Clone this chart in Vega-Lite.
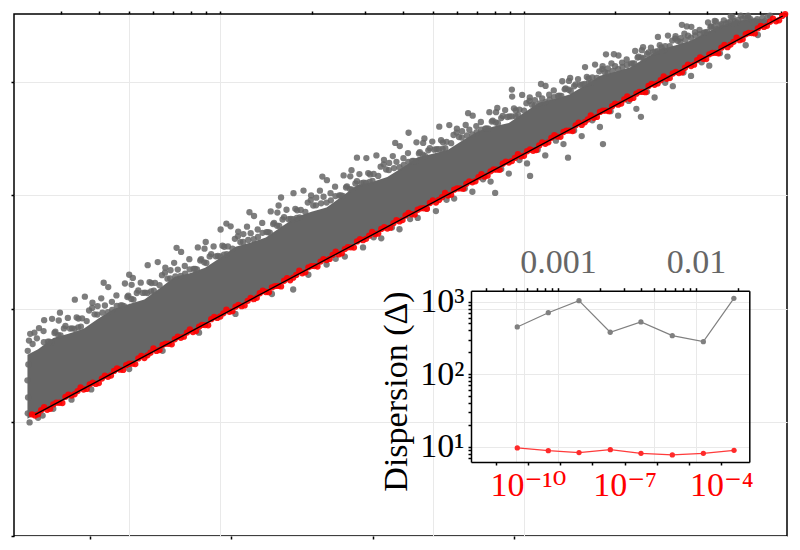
{
"$schema": "https://vega.github.io/schema/vega-lite/v6.json",
"width": 773, "height": 522,
"autosize": {"type": "none"},
"padding": {"left": 14, "top": 14, "right": 13, "bottom": 14},
"background": "white",
"config": {
 "view": {"stroke": "black", "strokeWidth": 1.5},
 "font": "Liberation Serif, DejaVu Serif",
 "axis": {"labelFont": "Liberation Serif, DejaVu Serif", "titleFont": "Liberation Serif, DejaVu Serif", "tickColor": "black", "domainColor": "black", "tickWidth": 1.5, "domainWidth": 1.5, "gridColor": "#e9e9e9", "gridWidth": 1, "labelFlush": false, "labelOverlap": false, "labelBound": false, "titleFontWeight": "normal", "labelColor": "black", "titleColor": "black"}
},
"datasets": {
 "core": [
  {"u":-0.635,"lo":1.033,"hi":1.595},{"u":-0.6,"lo":1.083,"hi":1.643},{"u":-0.55,"lo":1.154,"hi":1.742},{"u":-0.5,"lo":1.2255,"hi":1.781},{"u":-0.45,"lo":1.297,"hi":1.824},{"u":-0.4,"lo":1.368,"hi":1.916},{"u":-0.35,"lo":1.439,"hi":2.0},{"u":-0.3,"lo":1.5105,"hi":2.043},{"u":-0.25,"lo":1.582,"hi":2.081},{"u":-0.2,"lo":1.653,"hi":2.178},{"u":-0.15,"lo":1.724,"hi":2.281},{"u":-0.1,"lo":1.7955,"hi":2.314},{"u":-0.05,"lo":1.867,"hi":2.362},{"u":0,"lo":1.938,"hi":2.449},{"u":0.05,"lo":2.009,"hi":2.547},{"u":0.1,"lo":2.0805,"hi":2.584},{"u":0.15,"lo":2.152,"hi":2.627},{"u":0.2,"lo":2.223,"hi":2.719},{"u":0.25,"lo":2.294,"hi":2.807},{"u":0.3,"lo":2.3655,"hi":2.854},{"u":0.35,"lo":2.437,"hi":2.892},{"u":0.4,"lo":2.508,"hi":2.989},{"u":0.45,"lo":2.579,"hi":3.088},{"u":0.5,"lo":2.6505,"hi":3.117},{"u":0.55,"lo":2.722,"hi":3.161},{"u":0.6,"lo":2.793,"hi":3.244},{"u":0.65,"lo":2.864,"hi":3.335},{"u":0.7,"lo":2.9355,"hi":3.365},{"u":0.75,"lo":3.007,"hi":3.4},{"u":0.8,"lo":3.078,"hi":3.485},{"u":0.85,"lo":3.149,"hi":3.565},{"u":0.9,"lo":3.2205,"hi":3.605},{"u":0.95,"lo":3.292,"hi":3.636},{"u":1.0,"lo":3.363,"hi":3.726},{"u":1.05,"lo":3.434,"hi":3.816},{"u":1.1,"lo":3.5055,"hi":3.846},{"u":1.15,"lo":3.577,"hi":3.886},{"u":1.2,"lo":3.648,"hi":3.966},{"u":1.25,"lo":3.719,"hi":4.052},{"u":1.3,"lo":3.7905,"hi":4.087},{"u":1.35,"lo":3.862,"hi":4.127},{"u":1.4,"lo":3.933,"hi":4.207},{"u":1.45,"lo":4.004,"hi":4.284},{"u":1.5,"lo":4.0755,"hi":4.32},{"u":1.55,"lo":4.147,"hi":4.362},{"u":1.6,"lo":4.218,"hi":4.433},{"u":1.65,"lo":4.289,"hi":4.497},{"u":1.7,"lo":4.3605,"hi":4.531},{"u":1.76,"lo":4.446,"hi":4.56},{"u":1.8,"lo":4.503,"hi":4.54}
 ],
 "gray": [
  {"u":-0.634,"v":1.08},{"u":-0.633,"v":1.22},{"u":-0.635,"v":1.37},{"u":-0.632,"v":1.51},{"u":-0.634,"v":1.63},{"u":-0.63,"v":1.72},{"u":-0.626,"v":1.78},{"u":-0.618,"v":1.69},{"u":-0.612,"v":1.79},{"u":-0.604,"v":1.74},{"u":-0.597,"v":1.83},{"u":-0.628,"v":1.0},{"u":-0.6,"v":1.04},{"u":-0.585,"v":1.06},{"u":-0.58,"v":1.9},
  {"u":-0.582,"v":1.804},{"u":-0.568,"v":1.71},{"u":-0.554,"v":1.912},{"u":-0.543,"v":1.798},{"u":-0.532,"v":1.897},{"u":-0.557,"v":1.703},{"u":-0.55,"v":1.12},
  {"u":-0.528,"v":1.966},{"u":-0.515,"v":1.827},{"u":-0.502,"v":1.92},{"u":-0.488,"v":1.828},{"u":-0.479,"v":2.08},{"u":-0.473,"v":1.924},{"u":-0.49,"v":1.2},
  {"u":-0.459,"v":1.843},{"u":-0.446,"v":2.107},{"u":-0.432,"v":1.985},{"u":-0.421,"v":2.053},{"u":-0.467,"v":1.914},{"u":-0.414,"v":1.951},{"u":-0.425,"v":1.29},
  {"u":-0.405,"v":1.949},{"u":-0.392,"v":2.092},{"u":-0.38,"v":2.029},{"u":-0.369,"v":2.191},{"u":-0.356,"v":1.99},{"u":-0.384,"v":2.229},
  {"u":-0.342,"v":2.118},{"u":-0.328,"v":2.029},{"u":-0.314,"v":2.223},{"u":-0.303,"v":2.115},{"u":-0.292,"v":2.211},{"u":-0.317,"v":2.023},{"u":-0.3,"v":1.47},{"u":-0.3,"v":2.3},
  {"u":-0.288,"v":2.272},{"u":-0.275,"v":2.139},{"u":-0.262,"v":2.23},{"u":-0.248,"v":2.143},{"u":-0.239,"v":2.384},{"u":-0.233,"v":2.235},
  {"u":-0.219,"v":2.159},{"u":-0.206,"v":2.411},{"u":-0.192,"v":2.296},{"u":-0.181,"v":2.362},{"u":-0.227,"v":2.226},{"u":-0.174,"v":2.265},{"u":-0.19,"v":1.63},
  {"u":-0.165,"v":2.267},{"u":-0.152,"v":2.405},{"u":-0.14,"v":2.345},{"u":-0.129,"v":2.501},{"u":-0.116,"v":2.309},{"u":-0.144,"v":2.537},
  {"u":-0.102,"v":2.437},{"u":-0.088,"v":2.352},{"u":-0.074,"v":2.54},{"u":-0.063,"v":2.436},{"u":-0.052,"v":2.529},{"u":-0.077,"v":2.346},{"u":-0.07,"v":1.79},
  {"u":-0.048,"v":2.588},{"u":-0.035,"v":2.461},{"u":-0.022,"v":2.549},{"u":-0.008,"v":2.465},{"u":0.001,"v":2.698},{"u":0.007,"v":2.555},{"u":0.02,"v":2.75},
  {"u":0.021,"v":2.482},{"u":0.034,"v":2.726},{"u":0.048,"v":2.616},{"u":0.059,"v":2.68},{"u":0.013,"v":2.546},{"u":0.066,"v":2.587},{"u":0.05,"v":1.955},
  {"u":0.075,"v":2.589},{"u":0.088,"v":2.723},{"u":0.1,"v":2.666},{"u":0.111,"v":2.817},{"u":0.124,"v":2.632},{"u":0.096,"v":2.85},
  {"u":0.138,"v":2.756},{"u":0.152,"v":2.675},{"u":0.166,"v":2.857},{"u":0.177,"v":2.757},{"u":0.188,"v":2.847},{"u":0.163,"v":2.67},{"u":0.17,"v":2.13},
  {"u":0.192,"v":2.909},{"u":0.205,"v":2.786},{"u":0.218,"v":2.872},{"u":0.232,"v":2.792},{"u":0.241,"v":3.018},{"u":0.247,"v":2.88},{"u":0.24,"v":2.17},{"u":0.2,"v":2.98},
  {"u":0.261,"v":2.805},{"u":0.274,"v":3.041},{"u":0.288,"v":2.935},{"u":0.299,"v":2.998},{"u":0.253,"v":2.867},{"u":0.306,"v":2.909},{"u":0.29,"v":2.3},
  {"u":0.315,"v":2.911},{"u":0.328,"v":3.04},{"u":0.34,"v":2.986},{"u":0.351,"v":3.132},{"u":0.364,"v":2.955},{"u":0.336,"v":3.164},{"u":0.35,"v":2.39},
  {"u":0.378,"v":3.075},{"u":0.392,"v":2.998},{"u":0.406,"v":3.174},{"u":0.417,"v":3.078},{"u":0.428,"v":3.166},{"u":0.403,"v":2.993},{"u":0.41,"v":2.46},{"u":0.38,"v":2.44},
  {"u":0.432,"v":3.22},{"u":0.445,"v":3.103},{"u":0.458,"v":3.186},{"u":0.472,"v":3.11},{"u":0.481,"v":3.327},{"u":0.487,"v":3.195},{"u":0.47,"v":2.54},{"u":0.45,"v":3.33},
  {"u":0.501,"v":3.125},{"u":0.514,"v":3.35},{"u":0.528,"v":3.251},{"u":0.539,"v":3.311},{"u":0.493,"v":3.183},{"u":0.546,"v":3.226},{"u":0.53,"v":2.62},{"u":0.505,"v":2.63},
  {"u":0.555,"v":3.221},{"u":0.568,"v":3.344},{"u":0.58,"v":3.294},{"u":0.591,"v":3.432},{"u":0.604,"v":3.266},{"u":0.576,"v":3.46},{"u":0.59,"v":2.7},{"u":0.565,"v":2.715},
  {"u":0.618,"v":3.371},{"u":0.632,"v":3.301},{"u":0.646,"v":3.465},{"u":0.657,"v":3.378},{"u":0.668,"v":3.46},{"u":0.643,"v":3.298},{"u":0.65,"v":2.8},{"u":0.625,"v":2.79},{"u":0.62,"v":3.55},
  {"u":0.672,"v":3.499},{"u":0.685,"v":3.395},{"u":0.698,"v":3.472},{"u":0.712,"v":3.405},{"u":0.721,"v":3.603},{"u":0.727,"v":3.484},{"u":0.71,"v":2.86},{"u":0.68,"v":2.88},
  {"u":0.741,"v":3.414},{"u":0.754,"v":3.617},{"u":0.768,"v":3.53},{"u":0.779,"v":3.586},{"u":0.733,"v":3.465},{"u":0.786,"v":3.512},{"u":0.77,"v":2.97},{"u":0.745,"v":2.96},
  {"u":0.795,"v":3.507},{"u":0.808,"v":3.618},{"u":0.82,"v":3.576},{"u":0.831,"v":3.7},{"u":0.844,"v":3.555},{"u":0.816,"v":3.722},{"u":0.83,"v":3.03},{"u":0.805,"v":3.06},
  {"u":0.858,"v":3.644},{"u":0.872,"v":3.585},{"u":0.886,"v":3.731},{"u":0.897,"v":3.657},{"u":0.908,"v":3.731},{"u":0.883,"v":3.585},{"u":0.89,"v":3.12},{"u":0.865,"v":3.14},{"u":0.905,"v":3.02},
  {"u":0.912,"v":3.768},{"u":0.925,"v":3.679},{"u":0.938,"v":3.749},{"u":0.952,"v":3.693},{"u":0.961,"v":3.868},{"u":0.967,"v":3.765},{"u":0.95,"v":3.19},{"u":0.925,"v":3.23},{"u":0.96,"v":3.93},
  {"u":0.981,"v":3.704},{"u":0.994,"v":3.883},{"u":1.008,"v":3.81},{"u":1.019,"v":3.86},{"u":0.973,"v":3.746},{"u":1.026,"v":3.797},{"u":1.01,"v":3.28},{"u":0.985,"v":3.31},{"u":1.02,"v":3.17},
  {"u":1.035,"v":3.789},{"u":1.048,"v":3.887},{"u":1.06,"v":3.853},{"u":1.071,"v":3.962},{"u":1.084,"v":3.84},{"u":1.056,"v":3.979},{"u":1.07,"v":3.35},{"u":1.045,"v":3.4},
  {"u":1.098,"v":3.922},{"u":1.112,"v":3.873},{"u":1.126,"v":4.003},{"u":1.137,"v":3.94},{"u":1.148,"v":4.006},{"u":1.123,"v":3.875},{"u":1.13,"v":3.45},{"u":1.105,"v":3.48},{"u":1.145,"v":3.33},
  {"u":1.152,"v":4.032},{"u":1.165,"v":3.959},{"u":1.178,"v":4.022},{"u":1.192,"v":3.976},{"u":1.201,"v":4.128},{"u":1.207,"v":4.041},{"u":1.19,"v":3.52},{"u":1.165,"v":3.57},
  {"u":1.221,"v":3.993},{"u":1.234,"v":4.15},{"u":1.248,"v":4.09},{"u":1.259,"v":4.135},{"u":1.213,"v":4.028},{"u":1.266,"v":4.082},{"u":1.25,"v":3.6},{"u":1.225,"v":3.66},{"u":1.26,"v":3.45},{"u":1.27,"v":4.24},
  {"u":1.275,"v":4.075},{"u":1.288,"v":4.161},{"u":1.3,"v":4.135},{"u":1.311,"v":4.23},{"u":1.324,"v":4.129},{"u":1.296,"v":4.241},{"u":1.31,"v":3.7},{"u":1.285,"v":3.74},
  {"u":1.338,"v":4.195},{"u":1.352,"v":4.158},{"u":1.366,"v":4.269},{"u":1.377,"v":4.219},{"u":1.388,"v":4.277},{"u":1.363,"v":4.161},{"u":1.37,"v":3.76},{"u":1.345,"v":3.83},{"u":1.385,"v":3.69},
  {"u":1.392,"v":4.302},{"u":1.405,"v":4.243},{"u":1.418,"v":4.298},{"u":1.432,"v":4.264},{"u":1.441,"v":4.393},{"u":1.447,"v":4.321},{"u":1.43,"v":3.86},{"u":1.405,"v":3.91},
  {"u":1.461,"v":4.275},{"u":1.474,"v":4.405},{"u":1.488,"v":4.361},{"u":1.499,"v":4.4},{"u":1.453,"v":4.3},{"u":1.506,"v":4.359},{"u":1.49,"v":3.96},{"u":1.465,"v":3.99},
  {"u":1.515,"v":4.349},{"u":1.528,"v":4.421},{"u":1.54,"v":4.404},{"u":1.551,"v":4.482},{"u":1.564,"v":4.406},{"u":1.536,"v":4.486},{"u":1.55,"v":4.05},{"u":1.525,"v":4.08},{"u":1.52,"v":4.5},
  {"u":1.578,"v":4.454},{"u":1.592,"v":4.43},{"u":1.606,"v":4.52},{"u":1.617,"v":4.486},{"u":1.628,"v":4.534},{"u":1.603,"v":4.437},{"u":1.61,"v":4.14},{"u":1.585,"v":4.17},
  {"u":1.632,"v":4.529},{"u":1.645,"v":4.494},{"u":1.658,"v":4.538},{"u":1.672,"v":4.52},{"u":1.681,"v":4.575},{"u":1.687,"v":4.566},{"u":1.67,"v":4.22},{"u":1.645,"v":4.25},
  {"u":1.701,"v":4.52},{"u":1.714,"v":4.58},{"u":1.728,"v":4.57},{"u":1.739,"v":4.56},{"u":1.693,"v":4.532},{"u":1.746,"v":4.55},{"u":1.73,"v":4.32},
  {"u":1.757,"v":4.52},{"u":1.768,"v":4.55},{"u":1.776,"v":4.5},{"u":1.785,"v":4.56},{"u":1.793,"v":4.53},{"u":1.802,"v":4.57},{"u":1.81,"v":4.58},{"u":1.77,"v":4.41},
  {"u":-0.581,"v":1.706},{"u":-0.563,"v":1.71},{"u":-0.546,"v":1.787},{"u":-0.533,"v":1.768},
  {"u":-0.526,"v":1.766},{"u":-0.51,"v":1.849},{"u":-0.495,"v":1.826},{"u":-0.48,"v":1.824},
  {"u":-0.455,"v":1.916},{"u":-0.44,"v":1.892},{"u":-0.422,"v":2.008},{"u":-0.468,"v":1.837},
  {"u":-0.404,"v":2.024},{"u":-0.388,"v":1.966},{"u":-0.37,"v":1.97},{"u":-0.357,"v":2.061},
  {"u":-0.341,"v":2.025},{"u":-0.323,"v":2.029},{"u":-0.306,"v":2.104},{"u":-0.293,"v":2.086},
  {"u":-0.286,"v":2.081},{"u":-0.27,"v":2.161},{"u":-0.255,"v":2.14},{"u":-0.24,"v":2.139},
  {"u":-0.215,"v":2.228},{"u":-0.2,"v":2.207},{"u":-0.182,"v":2.318},{"u":-0.228,"v":2.153},
  {"u":-0.164,"v":2.339},{"u":-0.148,"v":2.284},{"u":-0.13,"v":2.289},{"u":-0.117,"v":2.377},
  {"u":-0.101,"v":2.347},{"u":-0.083,"v":2.352},{"u":-0.066,"v":2.425},{"u":-0.053,"v":2.409},
  {"u":-0.046,"v":2.403},{"u":-0.03,"v":2.482},{"u":-0.015,"v":2.462},{"u":0.0,"v":2.462},
  {"u":0.025,"v":2.549},{"u":0.04,"v":2.529},{"u":0.058,"v":2.638},{"u":0.012,"v":2.476},
  {"u":0.076,"v":2.658},{"u":0.092,"v":2.606},{"u":0.11,"v":2.612},{"u":0.123,"v":2.698},
  {"u":0.139,"v":2.669},{"u":0.157,"v":2.675},{"u":0.174,"v":2.746},{"u":0.187,"v":2.731},
  {"u":0.194,"v":2.73},{"u":0.21,"v":2.807},{"u":0.225,"v":2.788},{"u":0.24,"v":2.789},
  {"u":0.265,"v":2.87},{"u":0.28,"v":2.852},{"u":0.298,"v":2.957},{"u":0.252,"v":2.799},
  {"u":0.316,"v":2.978},{"u":0.332,"v":2.928},{"u":0.35,"v":2.935},{"u":0.363,"v":3.018},
  {"u":0.379,"v":2.992},{"u":0.397,"v":2.998},{"u":0.414,"v":3.068},{"u":0.427,"v":3.054},
  {"u":0.434,"v":3.049},{"u":0.45,"v":3.123},{"u":0.465,"v":3.107},{"u":0.48,"v":3.108},
  {"u":0.505,"v":3.187},{"u":0.52,"v":3.17},{"u":0.538,"v":3.272},{"u":0.492,"v":3.118},
  {"u":0.556,"v":3.284},{"u":0.572,"v":3.239},{"u":0.59,"v":3.246},{"u":0.603,"v":3.326},
  {"u":0.619,"v":3.294},{"u":0.637,"v":3.302},{"u":0.654,"v":3.368},{"u":0.667,"v":3.357},
  {"u":0.674,"v":3.345},{"u":0.69,"v":3.414},{"u":0.705,"v":3.401},{"u":0.72,"v":3.405},
  {"u":0.745,"v":3.47},{"u":0.76,"v":3.458},{"u":0.778,"v":3.551},{"u":0.732,"v":3.407},
  {"u":0.796,"v":3.563},{"u":0.812,"v":3.526},{"u":0.83,"v":3.535},{"u":0.843,"v":3.608},
  {"u":0.859,"v":3.577},{"u":0.877,"v":3.587},{"u":0.894,"v":3.648},{"u":0.907,"v":3.64},
  {"u":0.914,"v":3.633},{"u":0.93,"v":3.697},{"u":0.945,"v":3.688},{"u":0.96,"v":3.694},
  {"u":0.985,"v":3.754},{"u":1.0,"v":3.745},{"u":1.018,"v":3.83},{"u":0.972,"v":3.695},
  {"u":1.036,"v":3.837},{"u":1.052,"v":3.808},{"u":1.07,"v":3.82},{"u":1.083,"v":3.885},
  {"u":1.099,"v":3.863},{"u":1.117,"v":3.876},{"u":1.134,"v":3.932},{"u":1.147,"v":3.928},
  {"u":1.154,"v":3.917},{"u":1.17,"v":3.975},{"u":1.185,"v":3.971},{"u":1.2,"v":3.979},
  {"u":1.225,"v":4.037},{"u":1.24,"v":4.033},{"u":1.258,"v":4.109},{"u":1.212,"v":3.984},
  {"u":1.276,"v":4.116},{"u":1.292,"v":4.095},{"u":1.31,"v":4.109},{"u":1.323,"v":4.167},
  {"u":1.339,"v":4.146},{"u":1.357,"v":4.161},{"u":1.374,"v":4.211},{"u":1.387,"v":4.211},
  {"u":1.394,"v":4.205},{"u":1.41,"v":4.257},{"u":1.425,"v":4.257},{"u":1.44,"v":4.267},
  {"u":1.465,"v":4.312},{"u":1.48,"v":4.312},{"u":1.498,"v":4.379},{"u":1.452,"v":4.265},
  {"u":1.516,"v":4.382},{"u":1.532,"v":4.37},{"u":1.55,"v":4.386},{"u":1.563,"v":4.436},
  {"u":1.579,"v":4.417},{"u":1.597,"v":4.434},{"u":1.614,"v":4.479},{"u":1.627,"v":4.483},
  {"u":1.634,"v":4.462},{"u":1.65,"v":4.506},{"u":1.665,"v":4.512},{"u":1.68,"v":4.526},
  {"u":1.705,"v":4.544},{"u":1.72,"v":4.553},{"u":1.738,"v":4.58},{"u":1.692,"v":4.509}
 ],
 "red": [
  {"u":-0.62,"v":1.07},{"u":-0.6,"v":1.071},{"u":-0.58,"v":1.134},{"u":-0.56,"v":1.12},{"u":-0.54,"v":1.174},{"u":-0.52,"v":1.171},{"u":-0.5,"v":1.244},{"u":-0.48,"v":1.248},{"u":-0.46,"v":1.309},{"u":-0.44,"v":1.295},
  {"u":-0.42,"v":1.35},{"u":-0.4,"v":1.346},{"u":-0.38,"v":1.412},{"u":-0.36,"v":1.413},{"u":-0.34,"v":1.476},{"u":-0.32,"v":1.462},{"u":-0.3,"v":1.516},{"u":-0.28,"v":1.513},{"u":-0.26,"v":1.586},{"u":-0.24,"v":1.59},
  {"u":-0.22,"v":1.651},{"u":-0.2,"v":1.637},{"u":-0.18,"v":1.692},{"u":-0.16,"v":1.688},{"u":-0.14,"v":1.754},{"u":-0.12,"v":1.755},{"u":-0.1,"v":1.818},{"u":-0.08,"v":1.804},{"u":-0.06,"v":1.858},{"u":-0.04,"v":1.855},
  {"u":-0.02,"v":1.928},{"u":0.0,"v":1.932},{"u":0.02,"v":1.993},{"u":0.04,"v":1.979},{"u":0.06,"v":2.034},{"u":0.08,"v":2.03},{"u":0.1,"v":2.096},{"u":0.12,"v":2.097},{"u":0.14,"v":2.16},{"u":0.16,"v":2.146},
  {"u":0.18,"v":2.2},{"u":0.2,"v":2.197},{"u":0.22,"v":2.27},{"u":0.24,"v":2.274},{"u":0.26,"v":2.335},{"u":0.28,"v":2.321},{"u":0.3,"v":2.376},{"u":0.32,"v":2.372},{"u":0.34,"v":2.438},{"u":0.36,"v":2.439},
  {"u":0.38,"v":2.502},{"u":0.4,"v":2.488},{"u":0.42,"v":2.542},{"u":0.44,"v":2.539},{"u":0.46,"v":2.612},{"u":0.48,"v":2.616},{"u":0.5,"v":2.677},{"u":0.52,"v":2.663},{"u":0.54,"v":2.718},{"u":0.56,"v":2.714},
  {"u":0.58,"v":2.78},{"u":0.6,"v":2.781},{"u":0.62,"v":2.844},{"u":0.64,"v":2.83},{"u":0.66,"v":2.884},{"u":0.68,"v":2.881},{"u":0.7,"v":2.954},{"u":0.72,"v":2.958},{"u":0.74,"v":3.019},{"u":0.76,"v":3.005},
  {"u":0.78,"v":3.06},{"u":0.8,"v":3.056},{"u":0.82,"v":3.122},{"u":0.84,"v":3.123},{"u":0.86,"v":3.186},{"u":0.88,"v":3.172},{"u":0.9,"v":3.226},{"u":0.92,"v":3.223},{"u":0.94,"v":3.296},{"u":0.96,"v":3.3},
  {"u":0.98,"v":3.361},{"u":1.0,"v":3.347},{"u":1.02,"v":3.402},{"u":1.04,"v":3.398},{"u":1.06,"v":3.464},{"u":1.08,"v":3.465},{"u":1.1,"v":3.528},{"u":1.12,"v":3.514},{"u":1.14,"v":3.568},{"u":1.16,"v":3.565},
  {"u":1.18,"v":3.638},{"u":1.2,"v":3.642},{"u":1.22,"v":3.703},{"u":1.24,"v":3.689},{"u":1.26,"v":3.744},{"u":1.28,"v":3.74},{"u":1.3,"v":3.806},{"u":1.32,"v":3.807},{"u":1.34,"v":3.87},{"u":1.36,"v":3.856},
  {"u":1.38,"v":3.91},{"u":1.4,"v":3.907},{"u":1.42,"v":3.98},{"u":1.44,"v":3.984},{"u":1.46,"v":4.045},{"u":1.48,"v":4.031},{"u":1.5,"v":4.086},{"u":1.52,"v":4.082},{"u":1.54,"v":4.148},{"u":1.56,"v":4.149},
  {"u":1.58,"v":4.212},{"u":1.6,"v":4.198},{"u":1.62,"v":4.252},{"u":1.64,"v":4.249},{"u":1.66,"v":4.322},{"u":1.68,"v":4.326},{"u":1.7,"v":4.387},{"u":1.72,"v":4.373},{"u":1.74,"v":4.428},{"u":1.76,"v":4.424},
  {"u":1.78,"v":4.49},{"u":1.8,"v":4.491},{"u":1.82,"v":4.554},{"u":1.84,"v":4.54},{"u":1.86,"v":4.594},
  {"u":-0.61,"v":1.061},{"u":-0.59,"v":1.107},{"u":-0.57,"v":1.111},{"u":-0.55,"v":1.158},{"u":-0.53,"v":1.173},{"u":-0.51,"v":1.225},{"u":-0.49,"v":1.236},{"u":-0.47,"v":1.276},{"u":-0.45,"v":1.289},{"u":-0.43,"v":1.335},
  {"u":-0.41,"v":1.339},{"u":-0.39,"v":1.386},{"u":-0.37,"v":1.401},{"u":-0.35,"v":1.453},{"u":-0.33,"v":1.464},{"u":-0.31,"v":1.504},{"u":-0.29,"v":1.517},{"u":-0.27,"v":1.563},{"u":-0.25,"v":1.567},{"u":-0.23,"v":1.614},
  {"u":-0.21,"v":1.629},{"u":-0.19,"v":1.681},{"u":-0.17,"v":1.692},{"u":-0.15,"v":1.732},{"u":-0.13,"v":1.745},{"u":-0.11,"v":1.791},{"u":-0.09,"v":1.795},{"u":-0.07,"v":1.842},{"u":-0.05,"v":1.857},{"u":-0.03,"v":1.909},
  {"u":-0.01,"v":1.92},{"u":0.01,"v":1.96},{"u":0.03,"v":1.973},{"u":0.05,"v":2.019},{"u":0.07,"v":2.023},{"u":0.09,"v":2.07},{"u":0.11,"v":2.085},{"u":0.13,"v":2.137},{"u":0.15,"v":2.148},{"u":0.17,"v":2.188},
  {"u":0.19,"v":2.201},{"u":0.21,"v":2.247},{"u":0.23,"v":2.251},{"u":0.25,"v":2.298},{"u":0.27,"v":2.313},{"u":0.29,"v":2.365},{"u":0.31,"v":2.376},{"u":0.33,"v":2.416},{"u":0.35,"v":2.429},{"u":0.37,"v":2.475},
  {"u":0.39,"v":2.479},{"u":0.41,"v":2.526},{"u":0.43,"v":2.541},{"u":0.45,"v":2.593},{"u":0.47,"v":2.604},{"u":0.49,"v":2.644},{"u":0.51,"v":2.657},{"u":0.53,"v":2.703},{"u":0.55,"v":2.707},{"u":0.57,"v":2.754},
  {"u":0.59,"v":2.769},{"u":0.61,"v":2.821},{"u":0.63,"v":2.832},{"u":0.65,"v":2.872},{"u":0.67,"v":2.885},{"u":0.69,"v":2.931},{"u":0.71,"v":2.935},{"u":0.73,"v":2.982},{"u":0.75,"v":2.997},{"u":0.77,"v":3.049},
  {"u":0.79,"v":3.06},{"u":0.81,"v":3.1},{"u":0.83,"v":3.113},{"u":0.85,"v":3.159},{"u":0.87,"v":3.163},{"u":0.89,"v":3.21},{"u":0.91,"v":3.225},{"u":0.93,"v":3.277},{"u":0.95,"v":3.288},{"u":0.97,"v":3.328},
  {"u":0.99,"v":3.341},{"u":1.01,"v":3.387},{"u":1.03,"v":3.391},{"u":1.05,"v":3.438},{"u":1.07,"v":3.453},{"u":1.09,"v":3.505},{"u":1.11,"v":3.516},{"u":1.13,"v":3.556},{"u":1.15,"v":3.569},{"u":1.17,"v":3.615},
  {"u":1.19,"v":3.619},{"u":1.21,"v":3.666},{"u":1.23,"v":3.681},{"u":1.25,"v":3.733},{"u":1.27,"v":3.744},{"u":1.29,"v":3.784},{"u":1.31,"v":3.797},{"u":1.33,"v":3.843},{"u":1.35,"v":3.847},{"u":1.37,"v":3.894},
  {"u":1.39,"v":3.909},{"u":1.41,"v":3.961},{"u":1.43,"v":3.972},{"u":1.45,"v":4.012},{"u":1.47,"v":4.025},{"u":1.49,"v":4.071},{"u":1.51,"v":4.075},{"u":1.53,"v":4.122},{"u":1.55,"v":4.137},{"u":1.57,"v":4.189},
  {"u":1.59,"v":4.2},{"u":1.61,"v":4.24},{"u":1.63,"v":4.253},{"u":1.65,"v":4.299},{"u":1.67,"v":4.303},{"u":1.69,"v":4.35},{"u":1.71,"v":4.365},{"u":1.73,"v":4.417},{"u":1.75,"v":4.428},{"u":1.77,"v":4.468},
  {"u":1.79,"v":4.481},{"u":1.81,"v":4.527},{"u":1.83,"v":4.531},{"u":1.85,"v":4.578}
 ],
 "fit": [{"u":-0.61,"v":1.069},{"u":1.852,"v":4.577}],
 "inset": [
  {"gx":5.07e-4,"gy":447,"rx":4.68e-11,"ry":9.6},
  {"gx":8.51e-4,"gy":703,"rx":4.29e-10,"ry":8.8},
  {"gx":1.42e-3,"gy":1029,"rx":3.85e-9,"ry":8.3},
  {"gx":2.39e-3,"gy":378,"rx":3.6e-8,"ry":9.1},
  {"gx":3.99e-3,"gy":524,"rx":3.22e-7,"ry":8.1},
  {"gx":6.73e-3,"gy":339,"rx":3.02e-6,"ry":7.7},
  {"gx":1.13e-2,"gy":280,"rx":2.77e-5,"ry":8.1},
  {"gx":1.88e-2,"gy":1110,"rx":2.48e-4,"ry":8.9}
 ]
},
"layer": [
 {
  "data": {"name": "core"},
  "mark": {"type": "area", "color": "#666666"},
  "encoding": {
   "x": {"field": "u", "type": "quantitative", "scale": {"domain": [-0.6793, 1.866], "nice": false, "zero": false},
    "axis": {"orient": "top", "values": [-0.5229,-0.3979,-0.301,-0.2218,-0.1549,-0.0969,-0.0458,0,0.301,0.4771,0.6021,0.699,0.7782,0.8451,0.9031,0.9542,1,1.301,1.4771,1.6021,1.699,1.7782,1.8451], "labels": false, "grid": false, "domain": false, "tickSize": 3, "title": null, "encode": {"ticks": {"y": {"value": -2.5}, "y2": {"value": 2.5}}}}},
   "y": {"field": "hi", "type": "quantitative", "scale": {"domain": [0, 4.595], "nice": false, "zero": false},
    "axis": {"orient": "left", "values": [0,1,2,3,4], "labels": false, "grid": true, "domain": false, "tickSize": 3, "title": null, "encode": {"ticks": {"x": {"value": -2.5}, "x2": {"value": 2.5}}}}},
   "y2": {"field": "lo"}
  }
 },
 {
  "data": {"name": "gray"},
  "mark": {"type": "circle", "size": 40, "color": "#666666", "opacity": 0.85},
  "encoding": {
   "x": {"field": "u", "type": "quantitative", "scale": {"domain": [-0.6793, 1.866], "nice": false, "zero": false}, "axis": null},
   "y": {"field": "v", "type": "quantitative", "scale": {"domain": [0, 4.595], "nice": false, "zero": false}, "axis": null}
  }
 },
 {
  "data": {"name": "red"},
  "mark": {"type": "circle", "size": 40, "color": "#ff0000", "opacity": 0.9},
  "encoding": {
   "x": {"field": "u", "type": "quantitative", "scale": {"domain": [-0.6793, 1.866], "nice": false, "zero": false},
    "axis": {"orient": "bottom", "values": [-0.429, 0.0362, 0.5018, 0.9671], "labels": false, "grid": false, "domain": false, "tickSize": 3, "title": null, "encode": {"ticks": {"y": {"value": -2.5}, "y2": {"value": 2.5}}}}},
   "y": {"field": "v", "type": "quantitative", "scale": {"domain": [0, 4.595], "nice": false, "zero": false}, "axis": null}
  }
 },
 {
  "data": {"name": "fit"},
  "mark": {"type": "line", "color": "black", "strokeWidth": 1.3},
  "encoding": {
   "x": {"field": "u", "type": "quantitative", "scale": {"domain": [-0.6793, 1.866], "nice": false, "zero": false},
    "axis": {"orient": "bottom", "values": [-0.301, 0, 0.699, 1], "labels": false, "ticks": false, "grid": true, "domain": false, "title": null}},
   "y": {"field": "v", "type": "quantitative", "scale": {"domain": [0, 4.595], "nice": false, "zero": false}, "axis": null}
  }
 },
 {
  "data": {"name": "inset"},
  "mark": {"type": "line", "color": "#808080", "strokeWidth": 1.2, "point": {"filled": true, "size": 28, "color": "#808080"}},
  "encoding": {
   "x": {"field": "gx", "type": "quantitative", "scale": {"type": "log", "domain": [2.344e-4, 0.02432], "range": [457, 735.3], "nice": false},
    "axis": {"orient": "top", "offset": -276.7, "values": [0.0003,0.0004,0.0005,0.0006,0.0007,0.0008,0.0009,0.001,0.002,0.003,0.004,0.005,0.006,0.007,0.008,0.009,0.01,0.02],
     "labelExpr": "datum.value == 0.001 ? '0.001' : (datum.value == 0.01 ? '0.01' : '')", "labelColor": "#666666", "labelFontSize": 34, "labelPadding": 8, "tickSize": 3,
     "grid": true, "gridOpacity": {"condition": {"test": "datum.value == 0.0005 || datum.value == 0.001 || datum.value == 0.005 || datum.value == 0.01", "value": 1}, "value": 0},
     "domain": true, "title": null, "encode": {"ticks": {"y": {"value": -2.5}, "y2": {"value": 2.5}}}}},
   "y": {"field": "gy", "type": "quantitative", "scale": {"type": "log", "domain": [6.15, 1413], "range": [448, 276.7], "nice": false},
    "axis": {"orient": "left", "offset": -457, "values": [7,8,9,10,20,30,40,50,60,70,80,90,100,200,300,400,500,600,700,800,900,1000],
     "labelExpr": "datum.value == 10 ? '10¹' : (datum.value == 100 ? '10²' : (datum.value == 1000 ? '10³' : ''))", "labelFontSize": 34, "labelPadding": 4, "tickSize": 3,
     "grid": true, "gridOpacity": {"condition": {"test": "datum.value == 10 || datum.value == 100 || datum.value == 1000", "value": 1}, "value": 0},
     "domain": true, "title": "Dispersion (Δ)", "titleFontSize": 34, "titlePadding": 6, "titleY": 377, "encode": {"ticks": {"x": {"value": -2.5}, "x2": {"value": 2.5}}}}}
  }
 },
 {
  "data": {"name": "inset"},
  "mark": {"type": "line", "color": "#ff3b3b", "strokeWidth": 1.2, "point": {"filled": true, "size": 28, "color": "#ff2a2a"}},
  "encoding": {
   "x": {"field": "rx", "type": "quantitative", "scale": {"type": "log", "domain": [1.714e-12, 7.38e-4], "range": [457, 735.3], "nice": false},
    "axis": {"orient": "bottom", "offset": -74, "values": [1e-11,1e-10,1e-9,1e-8,1e-7,1e-6,1e-5,1e-4],
     "labelExpr": "(datum.value > 5e-11 && datum.value < 2e-10) ? '10⁻¹⁰' : ((datum.value > 5e-8 && datum.value < 2e-7) ? '10⁻⁷' : ((datum.value > 5e-5 && datum.value < 2e-4) ? '10⁻⁴' : ''))",
     "labelColor": "#ff0000", "labelFontSize": 34, "labelPadding": 3, "tickSize": 3, "grid": false, "domain": true, "title": null,
     "encode": {"ticks": {"y": {"value": -2.5}, "y2": {"value": 2.5}}}}},
   "y": {"field": "ry", "type": "quantitative", "scale": {"type": "log", "domain": [6.15, 1413], "range": [448, 276.7], "nice": false},
    "axis": {"orient": "right", "offset": -37.7, "ticks": false, "labels": false, "grid": false, "domain": true, "title": null}}
  }
 }
],
"resolve": {"scale": {"x": "independent", "y": "independent"}, "axis": {"x": "independent", "y": "independent"}}
}
